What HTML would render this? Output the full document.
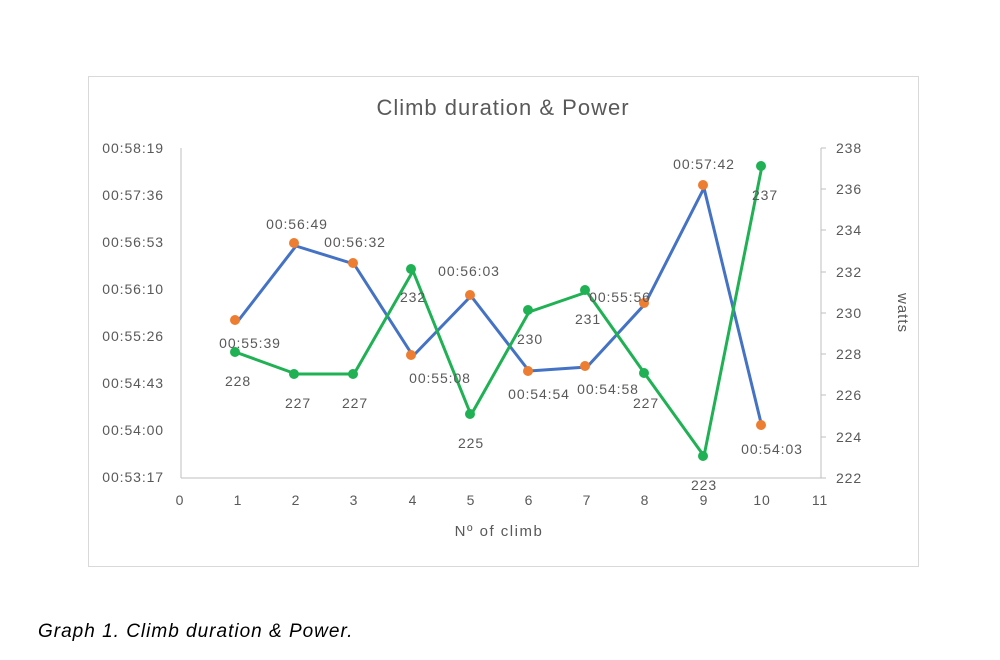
<!DOCTYPE html>
<html><head><meta charset="utf-8"><style>
body{margin:0;background:#fff;width:1000px;height:655px;overflow:hidden}
svg text{font-family:"Liberation Sans",sans-serif;fill:#595959}
.t{letter-spacing:0.9px}
</style></head><body>
<svg width="1000" height="655" viewBox="0 0 1000 655">
<rect x="88.5" y="76.5" width="830" height="490" fill="#fff" stroke="#d9d9d9"/>
<text x="503" y="115" font-size="22" text-anchor="middle" letter-spacing="1">Climb duration &amp; Power</text>
<line x1="181" y1="148" x2="181" y2="478" stroke="#bfbfbf"/>
<line x1="181" y1="478" x2="821" y2="478" stroke="#bfbfbf"/>
<line x1="821" y1="148" x2="821" y2="478" stroke="#bfbfbf"/>
<g stroke="#bfbfbf">
<line x1="821" y1="148" x2="826" y2="148"/><line x1="821" y1="189" x2="826" y2="189"/><line x1="821" y1="230" x2="826" y2="230"/><line x1="821" y1="272" x2="826" y2="272"/><line x1="821" y1="313" x2="826" y2="313"/><line x1="821" y1="354" x2="826" y2="354"/><line x1="821" y1="395" x2="826" y2="395"/><line x1="821" y1="437" x2="826" y2="437"/><line x1="821" y1="478" x2="826" y2="478"/>
</g>
<g font-size="14" text-anchor="end" class="t">
<text x="164" y="153">00:58:19</text><text x="164" y="200">00:57:36</text><text x="164" y="247">00:56:53</text><text x="164" y="294">00:56:10</text><text x="164" y="341">00:55:26</text><text x="164" y="388">00:54:43</text><text x="164" y="435">00:54:00</text><text x="164" y="482">00:53:17</text>
</g>
<g font-size="14" class="t">
<text x="836" y="153">238</text><text x="836" y="194">236</text><text x="836" y="235">234</text><text x="836" y="277">232</text><text x="836" y="318">230</text><text x="836" y="359">228</text><text x="836" y="400">226</text><text x="836" y="442">224</text><text x="836" y="483">222</text>
</g>
<text x="898" y="313" font-size="15" text-anchor="middle" letter-spacing="1" transform="rotate(90 898 313)">watts</text>
<g font-size="14" text-anchor="middle" class="t">
<text x="180" y="505">0</text><text x="238" y="505">1</text><text x="296" y="505">2</text><text x="354" y="505">3</text><text x="413" y="505">4</text><text x="471" y="505">5</text><text x="529" y="505">6</text><text x="587" y="505">7</text><text x="645" y="505">8</text><text x="704" y="505">9</text><text x="762" y="505">10</text><text x="820" y="505">11</text>
</g>
<text x="499" y="536" font-size="15" text-anchor="middle" letter-spacing="1.5">Nº of climb</text>
<polyline fill="none" stroke="#4472c4" stroke-width="3" stroke-linejoin="round" points="238,321 296,246 354,264 413,356 471,296 529,371 587,367 645,304 704,188 762,427"/>
<polyline fill="none" stroke="#1fb153" stroke-width="3" stroke-linejoin="round" points="238,353 296,374 354,374 413,271 471,415 529,312 587,292 645,374 704,456 762,166"/>
<g fill="#ed7d31">
<circle cx="235" cy="320" r="5"/><circle cx="294" cy="243" r="5"/><circle cx="353" cy="263" r="5"/><circle cx="411" cy="355" r="5"/><circle cx="470" cy="295" r="5"/><circle cx="528" cy="371" r="5"/><circle cx="585" cy="366" r="5"/><circle cx="644" cy="303" r="5"/><circle cx="703" cy="185" r="5"/><circle cx="761" cy="425" r="5"/>
</g>
<g fill="#1fb153">
<circle cx="235" cy="352" r="5"/><circle cx="294" cy="374" r="5"/><circle cx="353" cy="374" r="5"/><circle cx="411" cy="269" r="5"/><circle cx="470" cy="414" r="5"/><circle cx="528" cy="310" r="5"/><circle cx="585" cy="290" r="5"/><circle cx="644" cy="373" r="5"/><circle cx="703" cy="456" r="5"/><circle cx="761" cy="166" r="5"/>
</g>
<g font-size="14" text-anchor="middle" class="t">
<text x="250" y="348">00:55:39</text><text x="297" y="229">00:56:49</text><text x="355" y="247">00:56:32</text><text x="440" y="383">00:55:08</text><text x="469" y="276">00:56:03</text><text x="539" y="399">00:54:54</text><text x="608" y="394">00:54:58</text><text x="620" y="302">00:55:56</text><text x="704" y="169">00:57:42</text><text x="772" y="454">00:54:03</text>
<text x="238" y="386">228</text><text x="298" y="408">227</text><text x="355" y="408">227</text><text x="413" y="302">232</text><text x="471" y="448">225</text><text x="530" y="344">230</text><text x="588" y="324">231</text><text x="646" y="408">227</text><text x="704" y="490">223</text><text x="765" y="200">237</text>
</g>
<text x="38" y="637" font-size="19" font-style="italic" letter-spacing="1" style="fill:#000">Graph 1. Climb duration &amp; Power.</text>
</svg>
</body></html>
